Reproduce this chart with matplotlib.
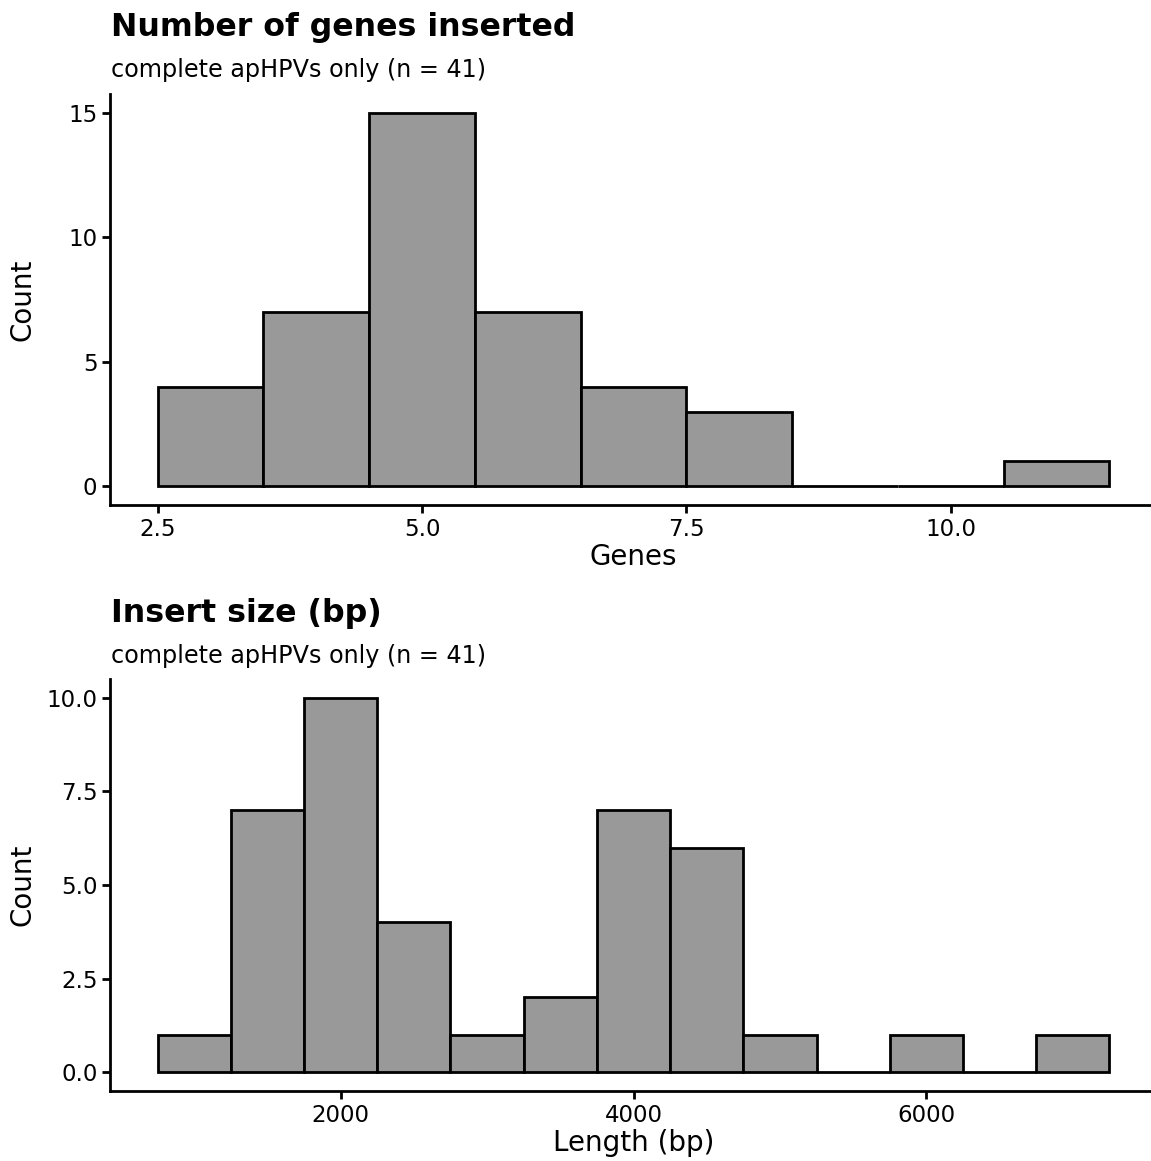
import matplotlib
matplotlib.use('Agg')
import matplotlib.pyplot as plt

# histogram counts (bin centres, counts)
genes_centers = [3, 4, 5, 6, 7, 8, 9, 10, 11]
genes_counts = [4, 7, 15, 7, 4, 3, 0, 0, 1]
genes_ticks = [2.5, 5.0, 7.5, 10.0]
genes_yticks = [0, 5, 10, 15]

size_centers = [1000, 1500, 2000, 2500, 3000, 3500, 4000, 4500, 5000, 5500, 6000, 6500, 7000]
size_counts = [1, 7, 10, 4, 1, 2, 7, 6, 1, 0, 1, 0, 1]
size_ticks = [2000, 4000, 6000]
size_yticks = [0.0, 2.5, 5.0, 7.5, 10.0]

plt.rcParams['font.family'] = ['DejaVu Sans']

W, H = 1151, 1161
fig = plt.figure(figsize=(W / 100, H / 100), dpi=100)

FILL = '#999999'
LW = 2.0


def panel(rect, centers, counts, width, xticks, xfmt, yticks, yfmt, xlabel,
          title, subtitle, ty):
    ax = fig.add_axes(rect)
    ax.bar(centers, counts, width=width, color=FILL, edgecolor='black',
           linewidth=LW, align='center')
    lo = centers[0] - width / 2
    hi = centers[-1] + width / 2
    pad = (hi - lo) * 0.05
    ax.set_xlim(lo - pad, hi + pad)
    ymax = max(counts)
    ax.set_ylim(-ymax * 0.05, ymax * 1.05)
    ax.set_xticks(xticks)
    ax.set_xticklabels([xfmt(v) for v in xticks])
    ax.set_yticks(yticks)
    ax.set_yticklabels([yfmt(v) for v in yticks])
    for s in ['top', 'right']:
        ax.spines[s].set_visible(False)
    for s in ['left', 'bottom']:
        ax.spines[s].set_linewidth(LW)
    ax.tick_params(axis='both', length=6, width=LW, labelsize=16.5,
                   colors='black', pad=3)
    ax.set_xlabel(xlabel, fontsize=20, labelpad=2)
    ax.set_ylabel('Count', fontsize=20)
    ax.yaxis.set_label_coords(-(110 - 22) / (rect[2] * W), 0.5)
    ax.yaxis.label.set_va('center')
    fig.text(rect[0] + 0.001, ty, title, fontsize=22.8, fontweight='bold',
             va='top', ha='left')
    fig.text(rect[0] + 0.001, ty - 46 / H, subtitle, fontsize=17.2,
             va='top', ha='left')
    return ax


left = 110 / W
width = (1157 - 110) / W
panel([left, 1 - 505 / H, width, (505 - 94) / H],
      genes_centers, genes_counts, 1, genes_ticks, lambda v: f'{v:.1f}',
      genes_yticks, lambda v: f'{v:d}', 'Genes',
      'Number of genes inserted', 'complete apHPVs only (n = 41)', 1 - 12 / H)

panel([left, 1 - 1091 / H, width, (1091 - 679) / H],
      size_centers, size_counts, 500, size_ticks, lambda v: f'{v:d}',
      size_yticks, lambda v: f'{v:.1f}', 'Length (bp)',
      'Insert size (bp)', 'complete apHPVs only (n = 41)', 1 - 598 / H)

fig.savefig('out.png', dpi=100)
